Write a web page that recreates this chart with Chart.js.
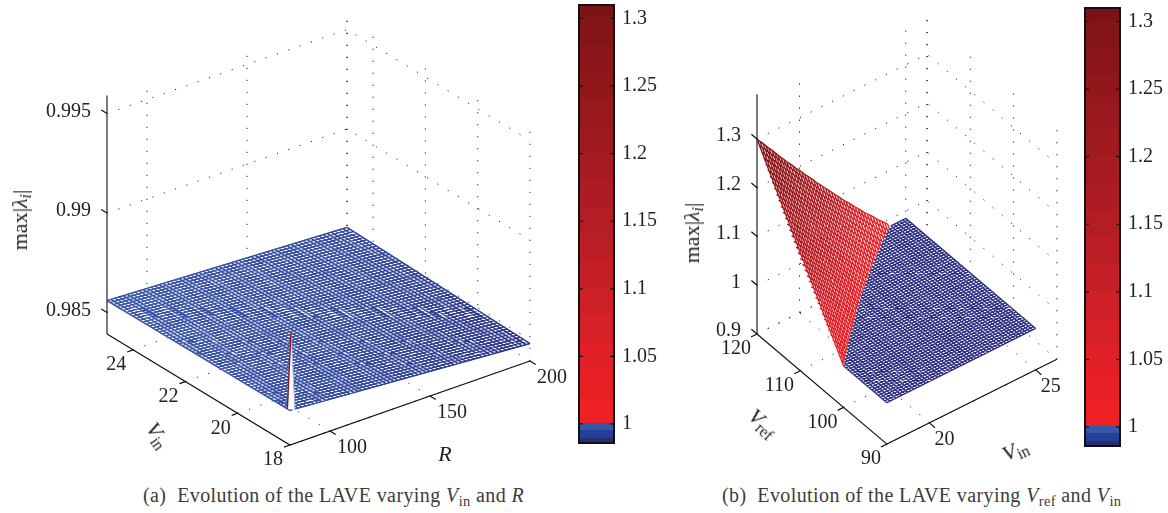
<!DOCTYPE html>
<html>
<head>
<meta charset="utf-8">
<title>Evolution of the LAVE</title>
<script src="https://cdn.jsdelivr.net/npm/chart.js@4/dist/chart.umd.min.js"></script>
<style>
  html, body { margin: 0; background: #fff; }
  body { width: 1168px; height: 513px; position: relative; overflow: hidden; font-family: "Liberation Serif", serif; color: #222; }
  canvas { position: absolute; top: 0; }
  .lab { position: absolute; white-space: nowrap; font-size: 22px; line-height: 1; transform: translate(-50%, -50%) rotate(var(--r, 0deg)); }
  .cap { position: absolute; top: 485px; white-space: nowrap; font-size: 20px; letter-spacing: .4px; line-height: 20px; color: #3c3c3c; }
  .s { font-size: .72em; vertical-align: -.28em; line-height: 0; }
</style>
</head>
<body>
<canvas id="surfA" width="575" height="470" style="left:0"></canvas>
<canvas id="barA" width="90" height="470" style="left:572px"></canvas>
<canvas id="surfB" width="440" height="470" style="left:640px"></canvas>
<canvas id="barB" width="90" height="470" style="left:1078px"></canvas>

<div class="lab" style="left:20px;top:220px;--r:-90deg">max|<i>λ</i><span class="s"><i>i</i></span>|</div>
<div class="lab" style="left:158px;top:435px;--r:55deg"><i>V</i><span class="s">in</span></div>
<div class="lab" style="left:445px;top:454px"><i>R</i></div>
<div class="lab" style="left:692px;top:233px;--r:-90deg">max|<i>λ</i><span class="s"><i>i</i></span>|</div>
<div class="lab" style="left:763px;top:423px;--r:42deg"><i>V</i><span class="s">ref</span></div>
<div class="lab" style="left:1015px;top:450px;--r:-25deg"><i>V</i><span class="s">in</span></div>
<div class="cap" style="left:143px">(a)&nbsp; Evolution of the LAVE varying <i>V</i><span class="s">in</span> and <i>R</i></div>
<div class="cap" style="left:722px">(b)&nbsp; Evolution of the LAVE varying <i>V</i><span class="s">ref</span> and <i>V</i><span class="s">in</span></div>

<script>
// colorbar
const cbTicks = [1, 1.05, 1.1, 1.15, 1.2, 1.25, 1.3];
const cbLevels = [0.9859, 0.9889, 0.9948, 1, 1.02, 1.04, 1.06, 1.08, 1.1, 1.12, 1.14, 1.16, 1.18, 1.2, 1.22, 1.24, 1.26, 1.28, 1.3, 1.31];
const cbColors = ['#2d2b70', '#233f97', '#3657a6', '#ee2024', '#e82025', '#e02026', '#d82027', '#ce2027', '#c41f26', '#bc1e25', '#b41d24', '#ad1c22', '#a61b21', '#9f1a1f', '#98181d', '#91171b', '#8a151a', '#831418', '#7b1216'];

// panel (a): max|lambda| against Vin and R
const aVinTicks = [18, 20, 22, 24];
const aRTicks = [100, 150, 200];
const aZTicks = [0.985, 0.99, 0.995];
const aVinGrid = [18,18.125,18.25,18.375,18.5,18.625,18.75,18.875,19,19.125,19.25,19.375,19.5,19.625,19.75,19.875,20,20.125,20.25,20.375,20.5,20.625,20.75,20.875,21,21.125,21.25,21.375,21.5,21.625,21.75,21.875,22,22.125,22.25,22.375,22.5,22.625,22.75,22.875,23,23.125,23.25,23.375,23.5,23.625,23.75,23.875,24,24.125,24.25,24.375,24.5,24.625,24.75,24.875,25];
const aRGrid = [80,82,84,86,88,90,92,94,96,98,100,102,104,106,108,110,112,114,116,118,120,122,124,126,128,130,132,134,136,138,140,142,144,146,148,150,152,154,156,158,160,162,164,166,168,170,172,174,176,178,180,182,184,186,188,190,192,194,196,198,200];
// surface height read along the four edges of the patch
const aZAtR80 = [.98566,.985659,.985658,.985657,.985656,.985655,.985654,.985653,.985651,.98565,.985649,.985648,.985647,.985646,.985645,.985644,.985643,.985642,.985641,.98564,.985639,.985638,.985636,.985635,.985634,.985633,.985632,.985631,.98563,.985629,.985628,.985627,.985626,.985625,.985624,.985623,.985621,.98562,.985619,.985618,.985617,.985616,.985615,.985614,.985613,.985612,.985611,.98561,.985609,.985608,.985606,.985605,.985604,.985603,.985602,.985601,.9856];
const aZAtR200 = [.9848,.984805,.984809,.984814,.984819,.984823,.984828,.984832,.984837,.984842,.984846,.984851,.984856,.98486,.984865,.98487,.984874,.984879,.984884,.984888,.984893,.984897,.984902,.984907,.984911,.984916,.984921,.984925,.98493,.984935,.984939,.984944,.984948,.984953,.984958,.984962,.984967,.984972,.984976,.984981,.984986,.98499,.984995,.985,.985004,.985009,.985013,.985018,.985023,.985027,.985032,.985037,.985041,.985046,.985051,.985055,.98506];
const aZAtVin18 = [.98566,.985646,.985631,.985617,.985603,.985588,.985574,.98556,.985545,.985531,.985517,.985502,.985488,.985474,.985459,.985445,.985431,.985416,.985402,.985388,.985373,.985359,.985345,.98533,.985316,.985302,.985287,.985273,.985259,.985244,.98523,.985216,.985201,.985187,.985173,.985158,.985144,.98513,.985115,.985101,.985087,.985072,.985058,.985044,.985029,.985015,.985001,.984986,.984972,.984958,.984943,.984929,.984915,.9849,.984886,.984872,.984857,.984843,.984829,.984814,.9848];
const aZAtVin25 = [.9856,.985591,.985582,.985573,.985564,.985555,.985546,.985537,.985528,.985519,.98551,.985501,.985492,.985483,.985474,.985465,.985456,.985447,.985438,.985429,.98542,.985411,.985402,.985393,.985384,.985375,.985366,.985357,.985348,.985339,.98533,.985321,.985312,.985303,.985294,.985285,.985276,.985267,.985258,.985249,.98524,.985231,.985222,.985213,.985204,.985195,.985186,.985177,.985168,.985159,.98515,.985141,.985132,.985123,.985114,.985105,.985096,.985087,.985078,.985069,.98506];
// narrow peak at the front corner: Vin, R, height
const aSpikeVin = [18.1, 18, 18];
const aSpikeR = [80, 80.5, 82.5];
const aSpikeZ = [0.98565, 0.98963, 0.98559];

// panel (b): max|lambda| against Vref and Vin
const bRefTicks = [90, 100, 110, 120];
const bVinTicks = [20, 25];
const bZTicks = [0.9, 1, 1.1, 1.2, 1.3];
const bFlatZ = 0.985;
const bRefGrid = [90,90.5,91,91.5,92,92.5,93,93.5,94,94.5,95,95.5,96,96.5,97,97.5,98,98.5,99,99.5,100,100.5,101,101.5,102,102.5,103,103.5,104,104.5,105,105.5,106,106.5,107,107.5,108,108.5,109,109.5,110,110.5,111,111.5,112,112.5,113,113.5,114,114.5,115,115.5,116,116.5,117,117.5,118,118.5,119,119.5,120];
const bVinGrid = [18,18.14,18.28,18.42,18.56,18.7,18.84,18.98,19.12,19.26,19.4,19.54,19.68,19.82,19.96,20.1,20.24,20.38,20.52,20.66,20.8,20.94,21.08,21.22,21.36,21.5,21.64,21.78,21.92,22.06,22.2,22.34,22.48,22.62,22.76,22.9,23.04,23.18,23.32,23.46,23.6,23.74,23.88,24.02,24.16,24.3,24.44,24.58,24.72,24.86,25];
// where each mesh line leaves the flat part, and its height at the far edge
const bVinBreak = [18,18,18,18,18,18,18,18,18,18,18,18,18,18,18,18,18,18,18,18,18,18.14,18.26,18.39,18.53,18.65,18.78,18.92,19.06,19.2,19.34,19.5,19.65,19.79,19.93,20.07,20.21,20.38,20.52,20.66,20.83,20.97,21.11,21.29,21.44,21.6,21.78,21.92,22.1,22.27,22.45,22.62,22.8,22.97,23.15,23.32,23.5,23.71,23.88,24.07,24.3];
const bZAtVin18 = [.985,.985,.985,.985,.985,.985,.985,.985,.985,.985,.985,.985,.985,.985,.985,.985,.985,.985,.985,.985,.985,.992,.998,1.005,1.012,1.019,1.026,1.033,1.04,1.047,1.054,1.062,1.069,1.076,1.084,1.091,1.099,1.106,1.114,1.122,1.13,1.138,1.146,1.154,1.162,1.17,1.178,1.187,1.195,1.203,1.212,1.22,1.229,1.238,1.246,1.255,1.264,1.273,1.282,1.291,1.3];
// height halfway along the rising part of each Vref line
const bZMid = [.985,.985,.985,.985,.985,.985,.985,.985,.985,.985,.985,.985,.985,.985,.985,.985,.985,.985,.985,.985,.985,.989,.9925,.9965,1.0005,1.0044,1.0083,1.0121,1.0159,1.0196,1.0233,1.0274,1.031,1.0345,1.0385,1.042,1.046,1.0495,1.0534,1.0574,1.0613,1.065,1.0687,1.0723,1.0759,1.0795,1.0831,1.0872,1.0908,1.0944,1.0985,1.1018,1.1055,1.1092,1.1125,1.1163,1.12,1.123,1.126,1.129,1.132];
const bRefBreak = [100,100.5,101.1,101.6,102.1,102.7,103.2,103.7,104.2,104.7,105.2,105.6,106.1,106.6,107.1,107.6,108.1,108.5,109,109.5,109.9,110.4,110.9,111.3,111.7,112.2,112.6,113,113.5,113.9,114.3,114.7,115.1,115.5,115.9,116.3,116.7,117.1,117.5,117.9,118.2,118.6,119,119.4,119.7,120,120,120,120,120,120];
const bZAtRef120 = [1.3,1.292,1.285,1.277,1.269,1.262,1.254,1.246,1.238,1.231,1.223,1.216,1.209,1.201,1.194,1.187,1.179,1.172,1.165,1.158,1.15,1.143,1.136,1.129,1.122,1.115,1.108,1.101,1.094,1.087,1.08,1.074,1.067,1.06,1.054,1.047,1.04,1.034,1.028,1.022,1.015,1.009,1.003,.997,.991,.985,.985,.985,.985,.985,.985];

// oblique views: pixel shift per unit of each data axis
const viewA = { ox: 107, oy: 334, p0: 25, q0: 80, z0: 0.98392, pdx: 26.14, pdy: 15.86, qdx: 2, qdy: -0.7, zdy: 19900,
    pMin: 18, qMax: 200, zMax: 0.9959, tickP: 0.22, tickQ: 3 };
const viewB = { ox: 757, oy: 334, p0: 120, q0: 18, z0: 0.9, pdx: 4.33, pdy: 3.67, qdx: 21.25, qdy: -10.6, zdy: 487.5,
    pMin: 90, qMax: 26, zMax: 1.392, tickP: 1.3, tickQ: 0.28 };

function project(v, p, q, z) {
    return {
        x: v.ox + (v.p0 - p) * v.pdx + (q - v.q0) * v.qdx,
        y: v.oy + (v.p0 - p) * v.pdy + (q - v.q0) * v.qdy - (z - v.z0) * v.zdy
    };
}

// polylines of [p, q, z] into one point list, split by gaps
function toPoints(v, lines) {
    const pts = [];
    lines.forEach(line => {
        line.forEach(a => pts.push(project(v, a[0], a[1], a[2])));
        pts.push({ x: null, y: null });
    });
    return pts;
}

function wallLines(v, pTicks, qTicks, zTicks) {
    const lines = [];
    [...qTicks, v.qMax].forEach(q => lines.push([[v.p0, q, v.z0], [v.p0, q, v.zMax]]));
    pTicks.forEach(p => lines.push([[p, v.qMax, v.z0], [p, v.qMax, v.zMax]]));
    zTicks.forEach(z => lines.push([[v.p0, v.q0, z], [v.p0, v.qMax, z], [v.pMin, v.qMax, z]]));
    pTicks.forEach(p => lines.push([[p, v.q0, v.z0], [p, v.qMax, v.z0]]));
    qTicks.forEach(q => lines.push([[v.pMin, q, v.z0], [v.p0, q, v.z0]]));
    return lines;
}

function axisLines(v, pTicks, qTicks, zTicks) {
    const lines = [
        [[v.p0, v.q0, v.z0], [v.pMin, v.q0, v.z0], [v.pMin, v.qMax, v.z0]]
    ];
    pTicks.forEach(p => lines.push([[p, v.q0, v.z0], [p, v.q0 - v.tickQ, v.z0]]));
    qTicks.forEach(q => lines.push([[v.pMin, q, v.z0], [v.pMin - v.tickP, q, v.z0]]));
    zTicks.forEach(z => lines.push([[v.p0, v.q0, z], [v.p0 + v.tickP, v.q0, z]]));
    return lines;
}

function lineSet(data, extra) {
    return Object.assign({ data, showLine: true, pointRadius: 0, borderWidth: 1, tension: 0, fill: false, spanGaps: false }, extra);
}

// last in the list ends up on top
function stack(list) {
    list.forEach((d, i) => { d.order = list.length - i; });
    return list;
}

// gradient across the red sheet, from the red/blue edge up to the apex
function redGradient(ctx) {
    const c = ctx.chart, xMin = c.options.scales.x.min;
    const px = a => { const t = project(viewB, a[0], a[1], a[2]); return { x: t.x - xMin, y: t.y }; };
    const b1 = px([100, 18, bFlatZ]), b2 = px([120, 24.3, bFlatZ]), apex = px([120, 18, 1.3]);
    const ex = b2.x - b1.x, ey = b2.y - b1.y, len = Math.hypot(ex, ey);
    const t = ((apex.x - b1.x) * ex + (apex.y - b1.y) * ey) / (len * len);
    const g = c.ctx.createLinearGradient(b1.x + ex * t, b1.y + ey * t, apex.x, apex.y);
    cbLevels.forEach((lv, i) => {
        if (lv >= 1 && lv <= 1.3) g.addColorStop(Math.min(1, (lv - 1) / 0.3), cbColors[i]);
    });
    return g;
}

function blueGradientA(ctx) {
    const g = ctx.chart.ctx.createLinearGradient(107, 0, 530, 0);
    g.addColorStop(0, '#3a57a8');
    g.addColorStop(0.55, '#334a9e');
    g.addColorStop(1, '#2c3484');
    return g;
}

const tickText = {
    id: 'tickText',
    afterDatasetsDraw(chart, args, opts) {
        const { ctx, scales } = chart;
        ctx.save();
        ctx.fillStyle = '#222';
        ctx.font = '20px "Liberation Serif"';
        ctx.textBaseline = 'middle';
        opts.items.forEach(t => {
            ctx.textAlign = t.align || 'center';
            ctx.fillText(t.text, scales.x.getPixelForValue(t.x), scales.y.getPixelForValue(t.y));
        });
        ctx.restore();
    }
};

function surfaceChart(id, xMin, xMax, datasets, items) {
    return new Chart(document.getElementById(id), {
        type: 'scatter',
        data: { datasets },
        plugins: [tickText],
        options: {
            responsive: false,
            animation: false,
            events: [],
            layout: { padding: 0 },
            scales: {
                x: { type: 'linear', display: false, min: xMin, max: xMax },
                y: { type: 'linear', display: false, min: 0, max: 470, reverse: true }
            },
            plugins: { legend: { display: false }, tooltip: { enabled: false }, tickText: { items } }
        }
    });
}

// panel (a)
const aMesh = [];
aRGrid.forEach((r, i) => aMesh.push([[18, r, aZAtVin18[i]], [25, r, aZAtVin25[i]]]));
aVinGrid.forEach((vin, j) => aMesh.push([[vin, 80, aZAtR80[j]], [vin, 200, aZAtR200[j]]]));
const aLast = aVinGrid.length - 1;
const aUpper = [[25, 80, aZAtR80[aLast]], [25, 200, aZAtR200[aLast]], [18, 200, aZAtR200[0]]];
const aLower = [[25, 80, aZAtR80[aLast]], [18, 80, aZAtR80[0]], [18, 200, aZAtR200[0]]];
const aSpike = aSpikeVin.map((v, i) => [v, aSpikeR[i], aSpikeZ[i]]);

const aLabels = [];
aZTicks.forEach(z => { const t = project(viewA, 25, 80, z); aLabels.push({ text: String(z), x: 91, y: t.y - 2, align: 'right' }); });
aVinTicks.forEach(v => { const t = project(viewA, v, 80, viewA.z0); aLabels.push({ text: String(v), x: t.x - 17, y: t.y + 15 }); });
aRTicks.forEach(r => { const t = project(viewA, 18, r, viewA.z0); aLabels.push({ text: String(r), x: t.x + 22, y: t.y + 17 }); });

surfaceChart('surfA', 0, 575, stack([
    lineSet(toPoints(viewA, wallLines(viewA, aVinTicks, aRTicks, aZTicks)), { borderColor: '#222', borderDash: [1.2, 10.8] }),
    lineSet(toPoints(viewA, [aUpper]).slice(0, -1), { borderColor: '#33489c', fill: '+1', backgroundColor: '#fff' }),
    lineSet(toPoints(viewA, [aLower]).slice(0, -1), { borderColor: '#33489c' }),
    lineSet(toPoints(viewA, aMesh), { borderColor: blueGradientA, borderWidth: 1.4 }),
    lineSet(toPoints(viewA, [[aSpike[0], aSpike[1], aSpike[2]]]).slice(0, -1), { borderColor: '#a9b3d6', fill: '+1', backgroundColor: '#fff' }),
    lineSet(toPoints(viewA, [[aSpike[0], aSpike[2]]]).slice(0, -1), { borderColor: 'rgba(255,255,255,0)' }),
    lineSet(toPoints(viewA, [[aSpike[0], aSpike[1]]]), { borderColor: '#8f1a1e', borderWidth: 1.4 }),
    lineSet(toPoints(viewA, [[[25, 80, viewA.z0], [25, 80, viewA.zMax]]]), { borderColor: '#444', borderWidth: 1.4 }),
    lineSet(toPoints(viewA, axisLines(viewA, aVinTicks, aRTicks, aZTicks)), { borderColor: '#111', borderWidth: 1.2 })
]), aLabels);

// panel (b)
const bBlue = [], bRed = [];
const bUpper = bVinGrid.map((vin, j) => [120, vin, bZAtRef120[j]]);
bRefGrid.forEach((r, i) => {
    bBlue.push([[r, bVinBreak[i], bFlatZ], [r, 25, bFlatZ]]);
    if (r > 100 && r < 120) {
        bRed.push([[r, 18, bZAtVin18[i]], [r, (18 + bVinBreak[i]) / 2, bZMid[i]], [r, bVinBreak[i], bFlatZ]]);
    }
});
bVinGrid.forEach((vin, j) => {
    bBlue.push([[90, vin, bFlatZ], [bRefBreak[j], vin, bFlatZ]]);
    if (bRefBreak[j] < 120) bRed.push([[bRefBreak[j], vin, bFlatZ], [120, vin, bZAtRef120[j]]]);
});
bRed.push(bUpper.filter(a => a[2] > bFlatZ));
const bOutline = [...bUpper, [90, 25, bFlatZ]];
const bLower = [[120, 18, 1.3], [100, 18, bFlatZ], [90, 18, bFlatZ], [90, 25, bFlatZ]];

const bLabels = [];
bZTicks.forEach(z => { const t = project(viewB, 120, 18, z); bLabels.push({ text: String(z), x: 741, y: t.y - 3, align: 'right' }); });
bRefTicks.forEach(r => { const t = project(viewB, r, 18, viewB.z0); bLabels.push({ text: String(r), x: t.x - (r === 90 ? 16 : 21), y: t.y + 15 }); });
bVinTicks.forEach(v => { const t = project(viewB, 90, v, viewB.z0); bLabels.push({ text: String(v), x: t.x + 15, y: t.y + 17 }); });

surfaceChart('surfB', 640, 1080, stack([
    lineSet(toPoints(viewB, wallLines(viewB, bRefTicks, bVinTicks, bZTicks)), { borderColor: '#222', borderDash: [1.2, 10.8] }),
    lineSet(toPoints(viewB, [bOutline]).slice(0, -1), { borderColor: 'rgba(255,255,255,0)', fill: '+1', backgroundColor: '#fff' }),
    lineSet(toPoints(viewB, [bLower]).slice(0, -1), { borderColor: 'rgba(255,255,255,0)' }),
    lineSet(toPoints(viewB, bBlue), { borderColor: '#2b2d80', borderWidth: 1.35 }),
    lineSet(toPoints(viewB, bRed), { borderColor: redGradient, borderWidth: 1.35 }),
    lineSet(toPoints(viewB, [[[120, 18, viewB.z0], [120, 18, viewB.zMax]]]), { borderColor: '#222', borderWidth: 1.2 }),
    lineSet(toPoints(viewB, axisLines(viewB, bRefTicks, bVinTicks, bZTicks)), { borderColor: '#111', borderWidth: 1.2 })
]), bLabels);

// colorbars
const barFrame = {
    id: 'barFrame',
    afterDatasetsDraw(chart) {
        const { ctx, chartArea: a, scales: { y } } = chart;
        ctx.save();
        ctx.strokeStyle = '#111';
        ctx.lineWidth = 1.2;
        cbTicks.forEach(t => {
            const py = y.getPixelForValue(t);
            ctx.beginPath();
            ctx.moveTo(a.left, py); ctx.lineTo(a.left + 4, py);
            ctx.moveTo(a.right - 4, py); ctx.lineTo(a.right, py);
            ctx.stroke();
        });
        ctx.lineWidth = 2;
        ctx.strokeRect(a.left, a.top, a.right - a.left, a.bottom - a.top);
        ctx.restore();
    }
};

function colorBar(id, top) {
    return new Chart(document.getElementById(id), {
        type: 'bar',
        data: {
            labels: [''],
            datasets: cbColors.map((c, i) => ({
                data: [[cbLevels[i], cbLevels[i + 1]]],
                backgroundColor: c,
                borderWidth: 0,
                inflateAmount: 1,
                grouped: false,
                barPercentage: 1,
                categoryPercentage: 1
            }))
        },
        plugins: [barFrame],
        options: {
            responsive: false,
            animation: false,
            events: [],
            layout: { padding: { left: 7, top: top, bottom: 470 - top - 438, right: 0 } },
            scales: {
                x: { display: false },
                y: {
                    position: 'right',
                    min: 0.9859,
                    max: 1.31,
                    border: { display: false },
                    grid: { display: false },
                    afterBuildTicks: s => { s.ticks = cbTicks.map(v => ({ value: v })); },
                    afterFit: s => { s.width = 48; s.paddingTop = 0; s.paddingBottom = 0; },
                    ticks: {
                        padding: 0,
                        color: '#222',
                        font: { family: '"Liberation Serif"', size: 20 },
                        callback: v => String(v)
                    }
                }
            },
            plugins: { legend: { display: false }, tooltip: { enabled: false } }
        }
    });
}

colorBar('barA', 5);
colorBar('barB', 8);
</script>
</body>
</html>
